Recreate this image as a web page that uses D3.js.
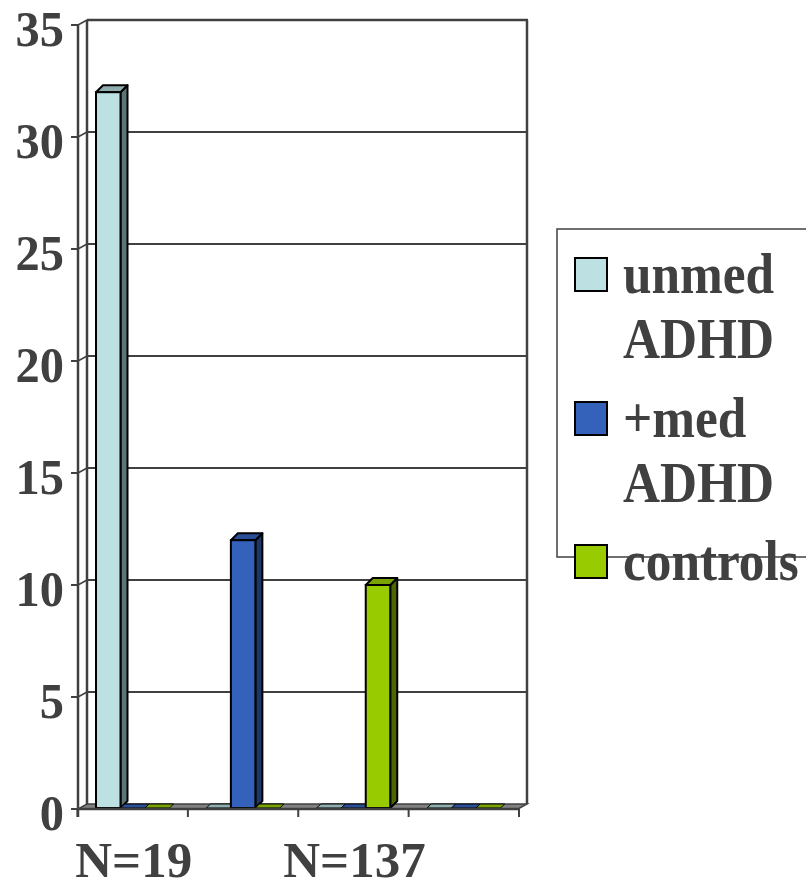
<!DOCTYPE html>
<html><head><meta charset="utf-8">
<script src="https://cdn.jsdelivr.net/npm/d3@7"></script>
<style>html,body{margin:0;padding:0;background:#fff;}</style>
</head><body>
<svg id="chart" width="806" height="888"></svg>
<script>
const categories = ["N=19", "", "N=137", ""];
const seriesNames = ["unmed ADHD", "+med ADHD", "controls"];
const unmedADHD = [32, 0, 0, 0];
const medADHD = [0, 12, 0, 0];
const controls = [0, 0, 10, 0];
const yTicks = [0, 5, 10, 15, 20, 25, 30, 35];
const legendLines = [["unmed", "ADHD"], ["+med", "ADHD"], ["controls"]];

const seriesValues = [unmedADHD, medADHD, controls];
const colors = [
  {front: "#BDE0E3", top: "#8FADAF", side: "#5B7476"},
  {front: "#3461BA", top: "#2A4F96", side: "#1E3566"},
  {front: "#99CC00", top: "#7BA300", side: "#4C6600"}
];
const txt = "#404040";
const font = "'Liberation Serif', 'Times New Roman', serif";

const svg = d3.select("#chart");
const y = d3.scaleLinear().domain([0, 35]).range([809, 25]);
const x = d3.scaleBand().domain(d3.range(categories.length)).range([77.5, 519]).paddingInner(0).paddingOuter(0);
const sub = d3.scaleBand().domain(d3.range(seriesNames.length)).range([18.5, 18.5 + 3 * 24.5]);
const wdx = 9, wdy = -5;   // wall depth
const bdx = 7, bdy = -7;   // bar depth
const x0 = 78, x1 = 518;

function label(parent, tx, ty, str, size, sx, anchor) {
  parent.append("text")
    .attr("transform", `translate(${tx},${ty}) scale(${sx},1)`)
    .attr("text-anchor", anchor)
    .attr("font-family", font).attr("font-weight", "bold").attr("font-size", size)
    .attr("fill", txt).text(str);
}

// back wall gridlines
const g = svg.append("g");
yTicks.filter(t => t > 0).forEach(t => {
  g.append("line").attr("x1", x0 + wdx).attr("x2", x1 + wdx + 1).attr("y1", y(t) + wdy).attr("y2", y(t) + wdy)
    .attr("stroke", txt).attr("stroke-width", t === 35 ? 2.5 : 2);
  g.append("line").attr("x1", x0).attr("x2", x0 + wdx).attr("y1", y(t)).attr("y2", y(t) + wdy)
    .attr("stroke", txt).attr("stroke-width", 1.5);
});
g.append("line").attr("x1", x0 + wdx).attr("x2", x0 + wdx).attr("y1", y(35) + wdy).attr("y2", y(0) + wdy).attr("stroke", txt).attr("stroke-width", 2.5);
g.append("line").attr("x1", x1 + wdx).attr("x2", x1 + wdx).attr("y1", y(35) + wdy).attr("y2", y(0) + wdy).attr("stroke", txt).attr("stroke-width", 2.5);
g.append("polygon").attr("points", [[x0, y(0)], [x1, y(0)], [x1 + wdx, y(0) + wdy], [x0 + wdx, y(0) + wdy]].join(" "))
  .attr("fill", "#808080").attr("stroke", txt).attr("stroke-width", 1.5);

// bars
const bars = svg.append("g");
categories.forEach((c, ci) => {
  seriesValues.forEach((vals, si) => {
    const v = vals[ci];
    const bx = x(ci) + sub(si);
    const bw = sub.bandwidth();
    const yb = y(0) - 1, yt = y(v);
    const col = colors[si];
    if (v > 0) {
      bars.append("polygon").attr("points", [[bx + bw, yt], [bx + bw + bdx, yt + bdy], [bx + bw + bdx, yb + bdy], [bx + bw, yb]].join(" "))
        .attr("fill", col.side).attr("stroke", "#000").attr("stroke-width", 2).attr("stroke-linejoin", "round");
      bars.append("polygon").attr("points", [[bx, yt], [bx + bdx, yt + bdy], [bx + bw + bdx, yt + bdy], [bx + bw, yt]].join(" "))
        .attr("fill", col.top).attr("stroke", "#000").attr("stroke-width", 2).attr("stroke-linejoin", "round");
      bars.append("rect").attr("x", bx).attr("y", yt).attr("width", bw).attr("height", yb - yt)
        .attr("fill", col.front).attr("stroke", "#000").attr("stroke-width", 2);
    } else {
      bars.append("polygon").attr("points", [[bx, yb], [bx + 4, yb - 4], [bx + bw + 4, yb - 4], [bx + bw, yb]].join(" "))
        .attr("fill", col.top).attr("stroke", "#000").attr("stroke-width", 1);
    }
  });
});

// y axis
const ax = svg.append("g");
ax.append("line").attr("x1", x0).attr("x2", x0).attr("y1", y(35)).attr("y2", y(0) + 8).attr("stroke", txt).attr("stroke-width", 2.5);
yTicks.forEach(t => {
  ax.append("line").attr("x1", x0 - 7).attr("x2", x0).attr("y1", y(t)).attr("y2", y(t)).attr("stroke", txt).attr("stroke-width", 2);
  label(ax, 64, y(t) + 20.5, t, 51, 0.95, "end");
});
// x axis
ax.append("line").attr("x1", x0).attr("x2", x1).attr("y1", y(0)).attr("y2", y(0)).attr("stroke", txt).attr("stroke-width", 2.5);
d3.range(categories.length + 1).forEach(i => {
  const tx = 77.5 + i * x.step();
  ax.append("line").attr("x1", tx).attr("x2", tx).attr("y1", y(0)).attr("y2", y(0) + 8).attr("stroke", txt).attr("stroke-width", 2);
});
categories.forEach((c, ci) => {
  label(ax, x(ci) + x.bandwidth() / 2 + 1, 876.5, c, 51, 1, "middle");
});

// legend
const lg = svg.append("g");
lg.append("rect").attr("x", 557).attr("y", 229).attr("width", 300).attr("height", 328)
  .attr("fill", "#fff").attr("stroke", txt).attr("stroke-width", 1.5);
const baselines = [[293, 358], [437, 502], [580]];
legendLines.forEach((lines, i) => {
  lg.append("rect").attr("x", 575).attr("y", baselines[i][0] - 35).attr("width", 32).attr("height", 33)
    .attr("fill", colors[i].front).attr("stroke", "#000").attr("stroke-width", 2);
  lines.forEach((ln, j) => {
    label(lg, 623, baselines[i][j], ln, 57, 0.9, "start");
  });
});
</script>
</body></html>
